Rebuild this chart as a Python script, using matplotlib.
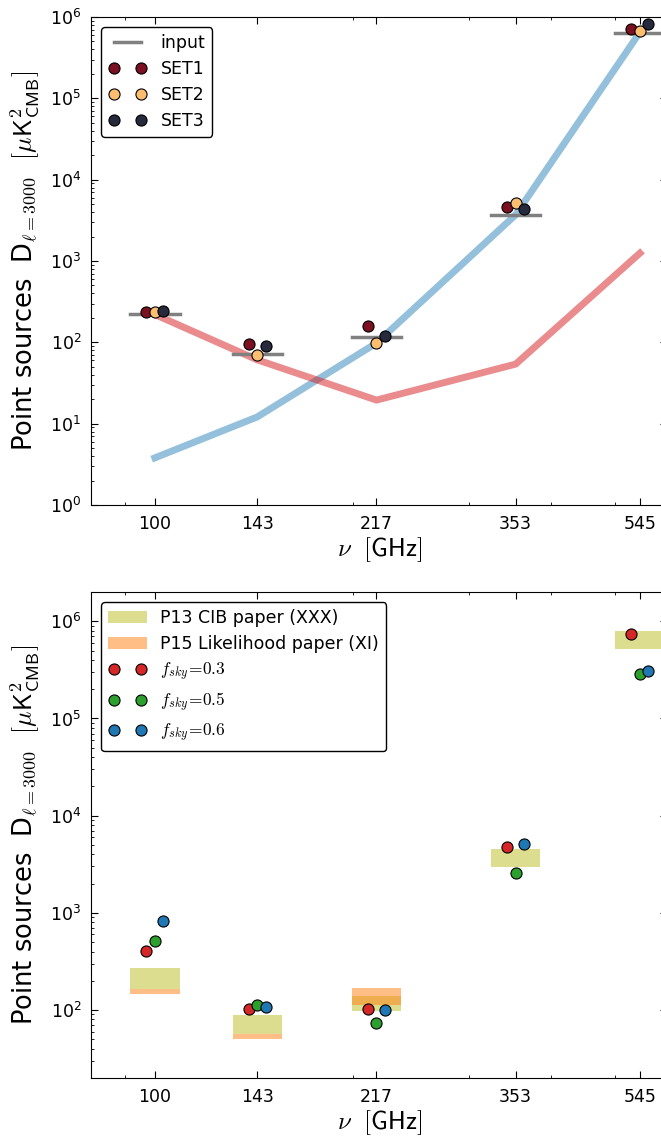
import matplotlib
matplotlib.use('Agg')
import matplotlib.pyplot as plt
import matplotlib.patches as mpatches
import numpy as np

plt.rcParams['mathtext.fontset'] = 'cm'
plt.rcParams['font.family'] = ['DejaVu Sans']
plt.rcParams['xtick.direction'] = 'in'
plt.rcParams['ytick.direction'] = 'in'
plt.rcParams['xtick.top'] = True
plt.rcParams['ytick.right'] = True
plt.rcParams['xtick.major.size'] = 5
plt.rcParams['ytick.major.size'] = 5
plt.rcParams['xtick.minor.size'] = 2.5
plt.rcParams['ytick.minor.size'] = 2.5

# ---- data ----
freqs = [100, 143, 217, 353, 545]
freq_labels = ['100', '143', '217', '353', '545']

# top panel
input_ps = [220, 72, 117, 3670, 635000]
set1 = [235, 95, 159, 4660, 718000]
set2 = [235, 70, 98, 5210, 680000]
set3 = [240, 91, 121, 4320, 828000]
radio_model = [220, 61, 19.5, 54, 1250]
ir_model = [3.8, 12.1, 98, 3700, 650000]

# bottom panel
cib_lo = [165, 57, 97, 2980, 513000]
cib_hi = [270, 89, 140, 4550, 790000]
like_freqs = [100, 143, 217]
like_lo = [145, 50, 112]
like_hi = [165, 57, 168]
fsky03 = [409, 103, 102, 4770, 736000]
fsky05 = [514, 112, 74, 2580, 286000]
fsky06 = [824, 107, 101, 5050, 309000]

set_colors = ['#7a1020', '#fdbf6f', '#262a3c']
fsky_colors = ['#d62728', '#2ca02c', '#1f77b4']
dx = 1.03     # point offset factor
wb = 1.09     # half width of bars (log)

f = np.array(freqs, dtype=float)

ylab = r'Point sources  D$_{\ell=3000}$  $[\mu\mathsf{K}^2_{\mathsf{CMB}}]$'
xlab = r'$\nu\ \ [\mathsf{GHz}]$'


def setup_xaxis(ax):
    ax.set_xscale('log')
    ax.set_yscale('log')
    ax.set_xlim(80, 600)
    ax.set_xticks(freqs)
    ax.set_xticklabels(freq_labels)
    ax.xaxis.set_minor_formatter(matplotlib.ticker.NullFormatter())
    ax.tick_params(labelsize=12.5, pad=7)
    ax.set_xlabel(xlab, fontsize=18, labelpad=2)
    ax.set_ylabel(ylab, fontsize=18.5, labelpad=6)


fig = plt.figure(figsize=(6.61, 11.39), dpi=100)

#---------------------------------
ax1 = fig.add_axes([0.1377, 0.5566, 0.872, 0.4285])
ax1.plot(f, ir_model, '-', color='#2b83ba', alpha=0.5, lw=5, zorder=1)
ax1.plot(f, radio_model, '-', color='#d7191c', alpha=0.5, lw=5, zorder=1)
for i in range(len(freqs)):
    ax1.plot([f[i] / wb, f[i] * wb], [input_ps[i], input_ps[i]], '-', color='gray', lw=2.5,
             label='input' if i == 0 else None, zorder=2)
for k, (vals, name) in enumerate(zip([set1, set2, set3], ['SET1', 'SET2', 'SET3'])):
    xs = f * dx ** (k - 1)
    ax1.plot(xs, vals, 'o', color=set_colors[k], mec='black', mew=0.8, ms=8, label=name, zorder=3)
ax1.set_ylim(1, 1e6)
setup_xaxis(ax1)
ax1.legend(loc='upper left', numpoints=2, fontsize=12.5, fancybox=True, framealpha=1,
           edgecolor='black', borderaxespad=0.6, handlelength=2.2, labelspacing=0.45)

#---------------------------------
ax2 = fig.add_axes([0.1377, 0.0536, 0.872, 0.4266])
for i in range(len(freqs)):
    ax2.fill_between([f[i] / wb, f[i] * wb], cib_lo[i], cib_hi[i], color='#bcbd22', alpha=0.5,
                     lw=0, zorder=1)
for i in range(len(like_freqs)):
    fl = like_freqs[i]
    ax2.fill_between([fl / wb, fl * wb], like_lo[i], like_hi[i], color='#ff7f0e', alpha=0.5,
                     lw=0, zorder=1)
h1 = mpatches.Patch(color='#bcbd22', alpha=0.5, lw=0, label='P13 CIB paper (XXX)')
h2 = mpatches.Patch(color='#ff7f0e', alpha=0.5, lw=0, label='P15 Likelihood paper (XI)')
handles = [h1, h2]
for k, (vals, name) in enumerate(zip([fsky03, fsky05, fsky06],
                                     [r'$f_{sky}\!=\!0.3$', r'$f_{sky}\!=\!0.5$', r'$f_{sky}\!=\!0.6$'])):
    xs = f * dx ** (k - 1)
    l, = ax2.plot(xs, vals, 'o', color=fsky_colors[k], mec='black', mew=0.8, ms=8, label=name, zorder=3)
    handles.append(l)
ax2.set_ylim(20, 2e6)
setup_xaxis(ax2)
ax2.legend(handles=handles, loc='upper left', numpoints=2, fontsize=12.5, fancybox=True,
           framealpha=1, edgecolor='black', borderaxespad=0.6, handlelength=2.2, labelspacing=0.45)

fig.savefig('out.png', dpi=100)
